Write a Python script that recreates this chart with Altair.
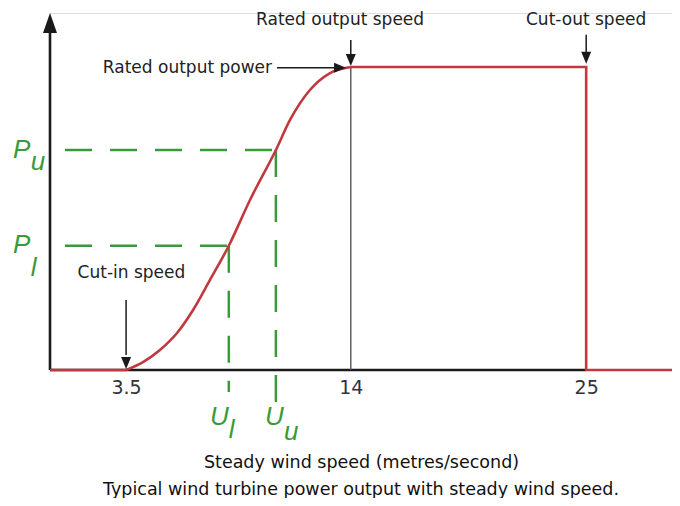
import altair as alt
import pandas as pd

# ---- scale extents (data units) ----
X_MIN, X_MAX = -0.056, 29.01
Y_MIN, Y_MAX = 0.0, 1.178

# ---- key values of the power curve ----
cut_in = 3.5
rated_speed = 14.0
cut_out = 25.0
rated_power = 1.0
U_l, U_u = 8.3, 10.5
P_l, P_u = 0.41, 0.726

# ---- power curve between cut-in and rated speed ----
curve_speed = [3.5, 4.29, 5.08, 5.88, 6.63, 7.42, 8.3, 9.29, 10.5, 11.16, 12.09, 13.03, 14.0]
curve_power = [0.0, 0.026, 0.066, 0.122, 0.198, 0.297, 0.41, 0.561, 0.726, 0.825, 0.924, 0.98, 1.0]

# ---- piecewise parts of the curve ----
low_speed = [X_MIN, cut_in]
low_power = [0.0, 0.0]
high_speed = [rated_speed, cut_out, cut_out, X_MAX]
high_power = [rated_power, rated_power, 0.0, 0.0]

tick_values = [3.5, 14, 25]

# ---- annotation texts ----
note_text = ["Rated output speed", "Cut-out speed", "Rated output power", "Cut-in speed"]
note_x = [13.5, 25.0, 10.32, 3.75]
note_y = [1.139, 1.139, 0.98, 0.304]
note_align = ["center", "center", "right", "center"]

# ---- annotation arrows (shafts) ----
arrow_x = [rated_speed, cut_out, cut_in, 10.55]
arrow_x2 = [rated_speed, cut_out, cut_in, 13.36]
arrow_y = [1.089, 1.106, 0.231, 0.997]
arrow_y2 = [1.033, 1.04, 0.0495, 0.997]
down_head_x = [rated_speed, cut_out, cut_in]
down_head_y = [1.023, 1.03, 0.023]
right_head_x = [13.5]
right_head_y = [0.997]

# ---- green symbol labels ----
main_sym = ["P", "P", "U", "U"]
main_x = [-1.785, -1.785, 7.42, 9.99]
main_y = [0.70, 0.386, -0.1815, -0.1815]
sub_sym = ["u", "l", "l", "u"]
sub_x = [-0.95, -0.95, 8.3, 10.88]
sub_y = [0.66, 0.31, -0.224, -0.231]

dash_x_start = 0.645
v_dash_bottom = [-0.073, -0.109]

RED = "#c0393f"
GREEN = "#3a9a3a"
INK = "#1a1a1a"
TXT_FONT = "DejaVu Sans"
SYM_FONT = "Liberation Sans"

xs = alt.Scale(domain=[X_MIN, X_MAX], nice=False, zero=False)
ys = alt.Scale(domain=[Y_MIN, Y_MAX], nice=False, zero=False)
x_axis = alt.Axis(values=tick_values, format=".1~f", domain=False, ticks=False, grid=False,
                  labelFont=TXT_FONT, labelFontSize=19, labelColor="#333", labelPadding=8,
                  title="Steady wind speed (metres/second)", titleFont=TXT_FONT,
                  titleFontSize=17.5, titleFontWeight="normal", titleColor="#111",
                  titlePadding=56)


def X(f):
    return alt.X(f, type="quantitative", scale=xs, axis=x_axis)


def Y(f):
    return alt.Y(f, type="quantitative", scale=ys, axis=None)


# axes lines
x_axis_line = alt.Chart(pd.DataFrame({"x": [X_MIN], "x2": [cut_out], "y": [0.0]})).mark_rule(
    color=INK, strokeWidth=2.6).encode(x=X("x"), x2="x2", y=Y("y"))
y_axis_line = alt.Chart(pd.DataFrame({"x": [X_MIN], "y": [0.0], "y2": [1.115]})).mark_rule(
    color=INK, strokeWidth=2.6).encode(x=X("x"), y=Y("y"), y2="y2")
y_arrow = alt.Chart(pd.DataFrame({"x": [X_MIN], "y": [1.145]})).mark_point(
    shape="M0,-1L0.7,1L-0.7,1Z", filled=True, size=400, color=INK, opacity=1).encode(
    x=X("x"), y=Y("y"))

rated_line = alt.Chart(pd.DataFrame({"x": [rated_speed], "y": [0.0], "y2": [rated_power]})).mark_rule(
    color="#555", strokeWidth=1.4).encode(x=X("x"), y=Y("y"), y2="y2")

# green dashed guides
h_dash = alt.Chart(pd.DataFrame({"x": [dash_x_start, dash_x_start], "x2": [U_u, U_l],
                                 "y": [P_u, P_l]})).mark_rule(
    color=GREEN, strokeWidth=2.5, strokeDash=[27, 18]).encode(x=X("x"), x2="x2", y=Y("y"))
v_dash = alt.Chart(pd.DataFrame({"x": [U_l, U_u], "y": [P_l, P_u], "y2": v_dash_bottom})).mark_rule(
    color=GREEN, strokeWidth=2.5, strokeDash=[27, 18]).encode(x=X("x"), y=Y("y"), y2="y2")

# red power curve
low_df = pd.DataFrame({"s": low_speed, "p": low_power, "i": range(len(low_speed))})
curve_df = pd.DataFrame({"s": curve_speed, "p": curve_power, "i": range(len(curve_speed))})
high_df = pd.DataFrame({"s": high_speed, "p": high_power, "i": range(len(high_speed))})
low_line = alt.Chart(low_df).mark_line(color=RED, strokeWidth=2.6).encode(
    x=X("s"), y=Y("p"), order="i:O")
curve_line = alt.Chart(curve_df).mark_line(color=RED, strokeWidth=2.6, interpolate="monotone").encode(
    x=X("s"), y=Y("p"), order="i:O")
high_line = alt.Chart(high_df).mark_line(color=RED, strokeWidth=2.6).encode(
    x=X("s"), y=Y("p"), order="i:O")

# annotation arrows
shafts = alt.Chart(pd.DataFrame({"x": arrow_x, "x2": arrow_x2, "y": arrow_y, "y2": arrow_y2})).mark_rule(
    color=INK, strokeWidth=1.5).encode(x=X("x"), x2="x2", y=Y("y"), y2="y2")
down_heads = alt.Chart(pd.DataFrame({"x": down_head_x, "y": down_head_y})).mark_point(
    shape="M-0.5,-0.6L0.5,-0.6L0,0.6Z", filled=True, size=400, color=INK, opacity=1).encode(
    x=X("x"), y=Y("y"))
right_heads = alt.Chart(pd.DataFrame({"x": right_head_x, "y": right_head_y})).mark_point(
    shape="M-0.6,-0.5L0.6,0L-0.6,0.5Z", filled=True, size=400, color=INK, opacity=1).encode(
    x=X("x"), y=Y("y"))

# annotation texts
notes_df = pd.DataFrame({"t": note_text, "x": note_x, "y": note_y, "a": note_align})
note_layers = []
for al in ["center", "right"]:
    note_layers.append(
        alt.Chart(notes_df[notes_df["a"] == al]).mark_text(
            align=al, baseline="alphabetic", font=TXT_FONT, fontSize=17, color="#222").encode(
            x=X("x"), y=Y("y"), text="t:N"))

sym_main = alt.Chart(pd.DataFrame({"t": main_sym, "x": main_x, "y": main_y})).mark_text(
    align="left", baseline="alphabetic", font=SYM_FONT, fontSize=26, fontStyle="italic",
    color=GREEN).encode(x=X("x"), y=Y("y"), text="t:N")
sym_sub = alt.Chart(pd.DataFrame({"t": sub_sym, "x": sub_x, "y": sub_y})).mark_text(
    align="left", baseline="alphabetic", font=SYM_FONT, fontSize=26, fontStyle="italic",
    color=GREEN).encode(x=X("x"), y=Y("y"), text="t:N")

chart = alt.layer(
    x_axis_line, y_axis_line, y_arrow, rated_line, h_dash, v_dash,
    low_line, curve_line, high_line, shafts, down_heads, right_heads,
    *note_layers, sym_main, sym_sub
).properties(
    width=622, height=357,
    padding={"left": 42, "top": 5, "right": 0, "bottom": 128},
    autosize=alt.AutoSizeParams(type="none"),
    title=alt.TitleParams("Typical wind turbine power output with steady wind speed.",
                          orient="bottom", anchor="middle", font=TXT_FONT, fontSize=17.5,
                          fontWeight="normal", color="#111", offset=10),
).configure_view(stroke=None).configure(background="white")

chart.save("out.html", embed_options={"renderer": "svg", "actions": False})
